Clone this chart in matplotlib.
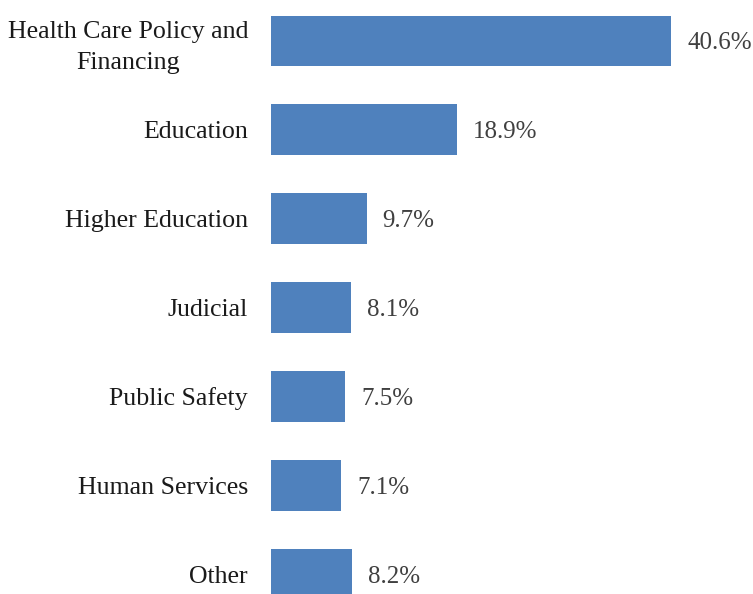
import matplotlib
matplotlib.use("Agg")
import matplotlib.pyplot as plt

categories = ["Health Care Policy and\nFinancing", "Education", "Higher Education",
              "Judicial", "Public Safety", "Human Services", "Other"]
values = [40.6, 18.9, 9.7, 8.1, 7.5, 7.1, 8.2]
value_labels = ["40.6%", "18.9%", "9.7%", "8.1%", "7.5%", "7.1%", "8.2%"]

plt.rcParams['font.family'] = ['Liberation Serif', 'DejaVu Serif']

fig = plt.figure(figsize=(7.53, 5.94), dpi=100)
ax = fig.add_axes([271/753, 0, 1 - 271/753, 1])

ypos = list(range(len(categories)))
ax.barh(ypos, values, height=0.574, color="#4f81bd")
ax.set_xlim(0, (753 - 271) / (400 / 40.6))
ax.set_ylim(6.225, -0.4615)

for y, v, lab in zip(ypos, values, value_labels):
    ax.annotate(lab, xy=(v, y), xytext=(16, 0), textcoords="offset pixels",
                ha="left", va="center_baseline", fontsize=18, color="#404040")

ax.set_yticks(ypos)
ax.set_yticklabels(categories, fontsize=18.6, color="#1a1a1a",
                   multialignment="center", linespacing=1.48)
ax.tick_params(axis="y", length=0, pad=16.5)
ax.set_xticks([])
for s in ax.spines.values():
    s.set_visible(False)

fig.savefig("out.png", dpi=100)
